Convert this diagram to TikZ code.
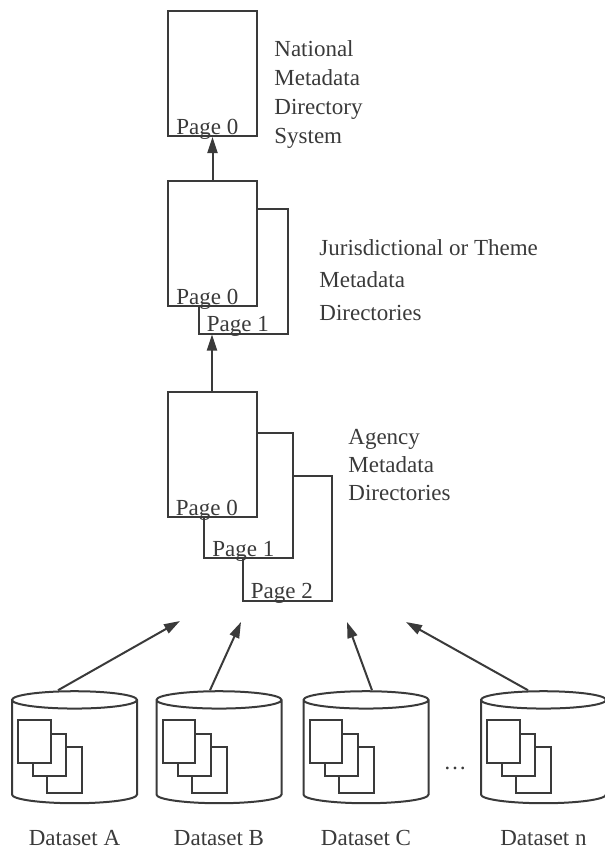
\documentclass[tikz,border=0pt]{standalone}
\usepackage{fontspec}
\setmainfont{Liberation Serif}
\usetikzlibrary{arrows.meta,positioning,shapes.geometric,calc}
\definecolor{scanInk}{HTML}{3A3A3A}
\tikzset{
    pageBox/.style={
        draw=scanInk,
        line width=1pt,
        fill=white,
        minimum width=44.5pt,
        minimum height=62.5pt,
        inner sep=0pt
    },
    pageTag/.style={
        anchor=base west,
        inner sep=0pt,
        xshift=4.5pt,
        yshift=1.5pt,
        text=scanInk
    },
    levelText/.style={
        align=left,
        anchor=west,
        inner sep=0pt,
        text=scanInk
    },
    dataStore/.style={
        draw=scanInk,
        line width=1pt,
        cylinder,
        shape border rotate=90,
        aspect=1.3,
        minimum width=62.5pt,
        minimum height=56pt
    },
    upArrow/.style={
        -{Triangle[length=8pt,width=5pt]},
        draw=scanInk,
        line width=1pt
    }
}
\begin{document}
\begin{tikzpicture}[x=0.5pt,y=-0.5pt,font=\fontsize{11.5}{14}\selectfont]
        \useasboundingbox (0,0) rectangle (605,848);

        % national level
        \node[pageBox,label={[pageTag]south west:Page 0}] (natP0) at (212.5,73.5) {};
        \node[levelText,font=\fontsize{11.5}{14.5}\selectfont] (natText) at (274,94)
            {National\\Metadata\\Directory\\System};

        % jurisdictional level
        \node[pageBox,label={[pageTag]south west:Page 1}] (jurP1) at (243,271) {};
        \node[pageBox,label={[pageTag]south west:Page 0}] (jurP0) at (212.5,243.5) {};
        \node[levelText,font=\fontsize{11.5}{16.25}\selectfont] (jurText) at (319,280)
            {Jurisdictional or Theme\\Metadata\\Directories};

        % agency level
        \node[pageBox,label={[pageTag]south west:Page 2}] (agP2) at (287,538) {};
        \node[pageBox,label={[pageTag]south west:Page 1}] (agP1) at (248.5,495.5) {};
        \node[pageBox,label={[pageTag]south west:Page 0}] (agP0) at (212,454.5) {};
        \node[levelText] (agText) at (348,465)
            {Agency\\Metadata\\Directories};

        \draw[upArrow] (jurP0) -- (natP0);
        \draw[upArrow] (agP0.north) -- (agP0.north |- jurP1.south);

        % datasets
        \node[dataStore] (dsA) at (74.5,754) {};
        \node[dataStore] (dsB) at (219,754) {};
        \node[dataStore] (dsC) at (366,754) {};
        \node[dataStore] (dsN) at (543.5,754) {};
        \node[text=scanInk] (dots) at (455,768) {\dots};

        \foreach \ds in {dsA,dsB,dsC,dsN} {
            \draw[draw=scanInk,line width=1pt,fill=white]
                ($(\ds)+(-27.5,-7)$) rectangle ($(\ds)+(7.5,39)$);
            \draw[draw=scanInk,line width=1pt,fill=white]
                ($(\ds)+(-41.5,-20)$) rectangle ($(\ds)+(-8.5,22)$);
            \draw[draw=scanInk,line width=1pt,fill=white]
                ($(\ds)+(-56.5,-34)$) rectangle ($(\ds)+(-24,9)$);
        }

        \node[text=scanInk,below=9.5pt of dsA] (labA) {Dataset A};
        \node[text=scanInk,below=9.5pt of dsB] (labB) {Dataset B};
        \node[text=scanInk,below=9.5pt of dsC] (labC) {Dataset C};
        \node[text=scanInk,below=9.5pt of dsN] (labN) {Dataset n};

        \coordinate (tipA) at (180,621);
        \coordinate (tipB) at (241,622);
        \coordinate (tipC) at (347,622);
        \coordinate (tipN) at (406,622);

        \draw[upArrow] ([xshift=-8.25pt]dsA.north) -- (tipA);
        \draw[upArrow] ([xshift=-4.5pt]dsB.north) -- (tipB);
        \draw[upArrow] ([xshift=3pt]dsC.north) -- (tipC);
        \draw[upArrow] ([xshift=-7.75pt]dsN.north) -- (tipN);
    \end{tikzpicture}
\end{document}
